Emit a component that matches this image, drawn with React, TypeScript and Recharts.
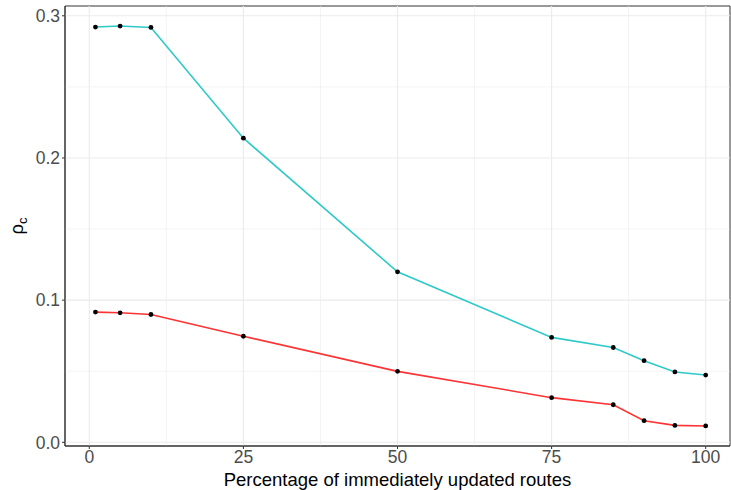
import React from "react";
import {
  LineChart,
  Line,
  XAxis,
  YAxis,
  ReferenceLine,
  ReferenceArea,
} from "recharts";

const percentages = [1, 5, 10, 25, 50, 75, 85, 90, 95, 100];
const cyanSeries = [0.2921, 0.2928, 0.2918, 0.2139, 0.1199, 0.0738, 0.0667, 0.0574, 0.0495, 0.0473];
const redSeries = [0.0916, 0.0911, 0.0899, 0.0746, 0.0499, 0.0314, 0.0264, 0.0152, 0.0119, 0.0115];

const xTicks = [0, 25, 50, 75, 100];
const xMinor = [12.5, 37.5, 62.5, 87.5];
const yTicks = [0, 0.1, 0.2, 0.3];
const yMinor = [0.05, 0.15, 0.25];

const xDomain: [number, number] = [-3.94, 103.94];
const yDomain: [number, number] = [-0.0026, 0.3069];

const data = percentages.map((p, i) => ({
  pct: p,
  cyan: cyanSeries[i],
  red: redSeries[i],
}));

const FONT = "'Liberation Sans', Arial, Helvetica, sans-serif";
const GRID = "#EBEBEB";

export default function App() {
  return (
    <div style={{ position: "absolute", left: 0, top: 0, width: 731, height: 490, background: "#fff" }}>
      <LineChart
        width={731}
        height={490}
        data={data}
        margin={{ top: 6, right: 1, bottom: 0, left: 0 }}
        style={{ fontFamily: FONT }}
      >
        {xMinor.map((v) => (
          <ReferenceLine key={"xm" + v} x={v} stroke={GRID} strokeWidth={0.6} />
        ))}
        {yMinor.map((v) => (
          <ReferenceLine key={"ym" + v} y={v} stroke={GRID} strokeWidth={0.6} />
        ))}
        {xTicks.map((v) => (
          <ReferenceLine key={"xM" + v} x={v} stroke={GRID} strokeWidth={1.1} />
        ))}
        {yTicks.map((v) => (
          <ReferenceLine key={"yM" + v} y={v} stroke={GRID} strokeWidth={1.1} />
        ))}
        <XAxis
          dataKey="pct"
          type="number"
          domain={xDomain}
          allowDataOverflow
          ticks={xTicks}
          height={44}
          tickSize={3}
          tickMargin={2}
          axisLine={{ stroke: "#333333", strokeWidth: 1 }}
          tickLine={{ stroke: "#333333", strokeWidth: 1 }}
          tick={{ fill: "#4D4D4D", fontSize: 17.5, fontFamily: FONT }}
          label={{
            value: "Percentage of immediately updated routes",
            position: "insideBottom",
            offset: 4,
            fill: "#000000",
            fontSize: 18.5,
            fontFamily: FONT,
          }}
        />
        <YAxis
          type="number"
          domain={yDomain}
          allowDataOverflow
          ticks={yTicks}
          width={65}
          tickSize={3}
          tickMargin={2}
          tickFormatter={(v: number) => v.toFixed(1)}
          axisLine={{ stroke: "#333333", strokeWidth: 1 }}
          tickLine={{ stroke: "#333333", strokeWidth: 1 }}
          tick={{ fill: "#4D4D4D", fontSize: 17.5, fontFamily: FONT }}
          label={{
            content: () => (
              <text
                x={23}
                y={226}
                transform="rotate(-90, 23, 226)"
                textAnchor="middle"
                fill="#000000"
                fontSize={18.5}
                fontFamily={FONT}
              >
                <tspan>ρ</tspan>
                <tspan fontSize={13} dy={4}>c</tspan>
              </text>
            ),
          }}
        />
        <Line
          dataKey="red"
          stroke="#FF3333"
          strokeWidth={1.6}
          dot={{ r: 2.4, fill: "#000000", stroke: "none" }}
          isAnimationActive={false}
        />
        <Line
          dataKey="cyan"
          stroke="#2EC9C9"
          strokeWidth={1.6}
          dot={{ r: 2.4, fill: "#000000", stroke: "none" }}
          isAnimationActive={false}
        />
        <ReferenceArea
          x1={xDomain[0]}
          x2={xDomain[1]}
          y1={yDomain[0]}
          y2={yDomain[1]}
          fill="none"
          fillOpacity={0}
          stroke="#333333"
          strokeWidth={1}
          strokeOpacity={1}
        />
      </LineChart>
    </div>
  );
}
